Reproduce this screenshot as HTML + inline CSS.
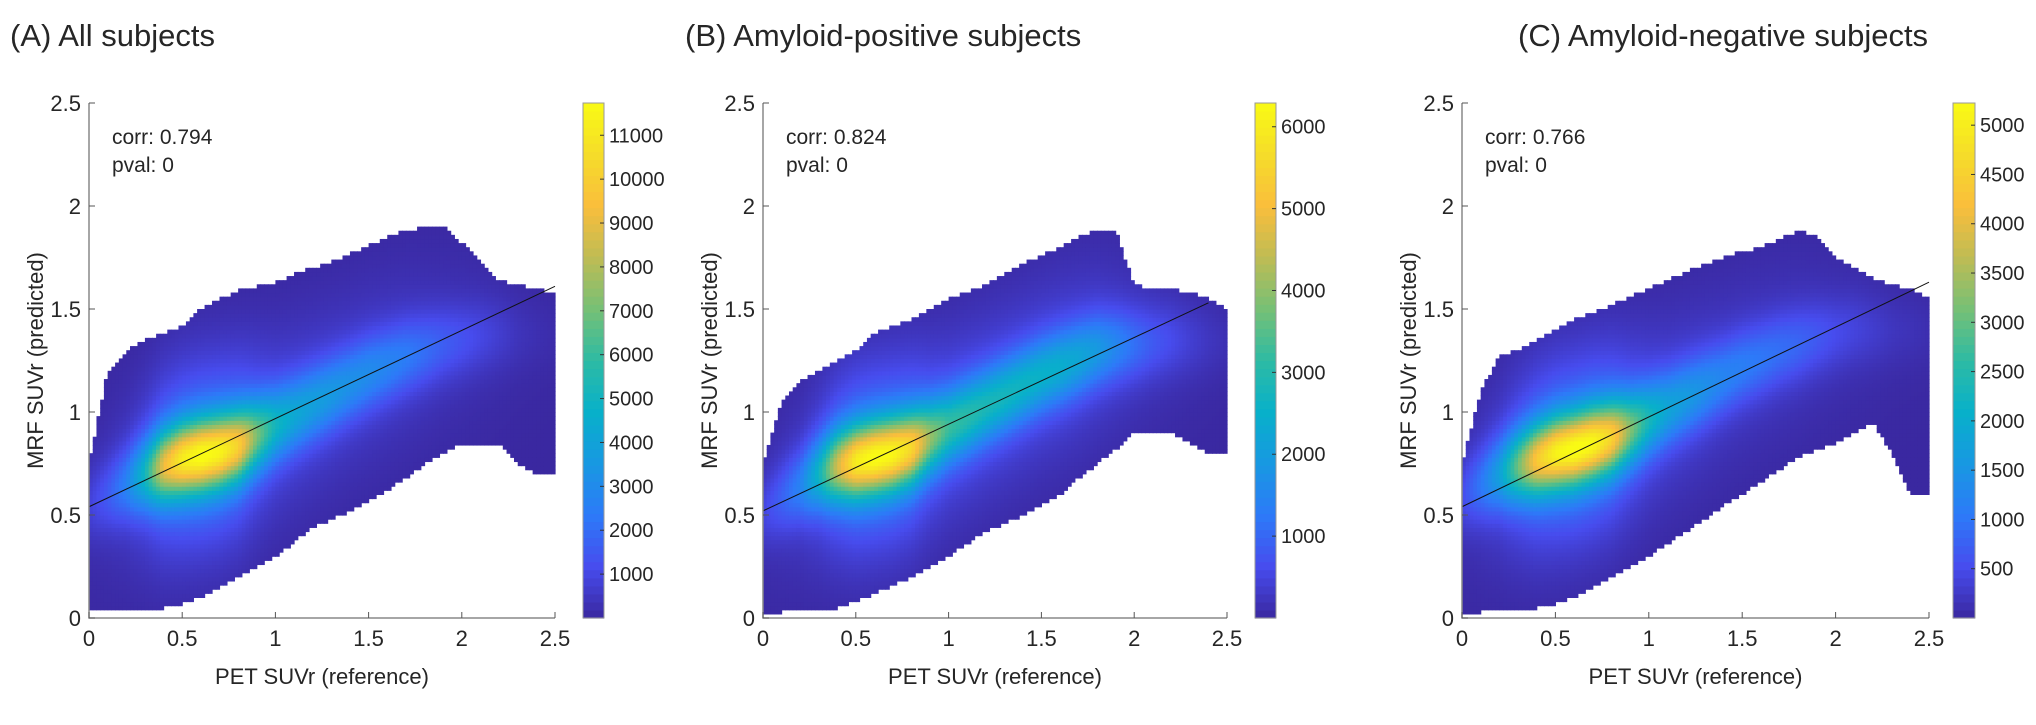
<!DOCTYPE html>
<html><head><meta charset="utf-8"><style>
html,body{margin:0;padding:0;background:#fff;}
svg text{font-family:"Liberation Sans",sans-serif;fill:#262626;}
</style></head><body>
<svg id="fig" width="2036" height="720" viewBox="0 0 2036 720" xmlns="http://www.w3.org/2000/svg"></svg>
<script>
// ---- data ----
const xBins = [0,0.1,0.2,0.3,0.4,0.5,0.6,0.7,0.8,0.9,1.0,1.1,1.2,1.3,1.4,1.5,1.6,1.7,1.8,1.9,2.0,2.1,2.2,2.3,2.4,2.5];
const xTicks = [0,0.5,1,1.5,2,2.5];
const yTicks = [0,0.5,1,1.5,2,2.5];
const titles = ["(A) All subjects","(B) Amyloid-positive subjects","(C) Amyloid-negative subjects"];
const corrs = ["0.794","0.824","0.766"];
const pvals = ["0","0","0"];
const cMaxes = [11735,6290,5225];
const cTicksA = [1000,2000,3000,4000,5000,6000,7000,8000,9000,10000,11000];
const cTicksB = [1000,2000,3000,4000,5000,6000];
const cTicksC = [500,1000,1500,2000,2500,3000,3500,4000,4500,5000];
const peakA = [800,1500,2600,5000,9000,11000,11700,11300,10000,7000,5000,4200,3800,3500,3200,3000,2700,2400,2000,1600,1300,1000,700,400,250,150];
const peakB = [500,900,1400,2600,4500,5900,6250,6100,5500,4000,3200,3000,2800,2700,2600,2500,2400,2200,1900,1500,1100,800,600,400,250,150];
const peakC = [500,1000,1700,3000,4300,5000,5220,5100,4500,3200,2300,1800,1600,1400,1200,1100,1000,900,800,650,500,400,300,200,150,100];
const ridgeA = [0.55,0.6,0.65,0.7,0.74,0.77,0.79,0.81,0.84,0.89,0.94,0.99,1.04,1.09,1.14,1.19,1.23,1.27,1.3,1.33,1.35,1.37,1.38,1.38,1.38,1.38];
const ridgeB = [0.52,0.58,0.64,0.7,0.74,0.76,0.78,0.8,0.83,0.88,0.93,0.98,1.03,1.08,1.13,1.18,1.22,1.26,1.3,1.32,1.33,1.34,1.35,1.35,1.35,1.35];
const ridgeC = [0.6,0.65,0.7,0.74,0.77,0.8,0.82,0.85,0.88,0.92,0.97,1.02,1.07,1.12,1.17,1.22,1.26,1.3,1.33,1.36,1.38,1.4,1.4,1.4,1.4,1.4];
const upperA = [0.75,1.2,1.3,1.35,1.38,1.42,1.5,1.55,1.59,1.61,1.63,1.67,1.70,1.73,1.77,1.81,1.85,1.88,1.9,1.9,1.82,1.74,1.64,1.62,1.6,1.58];
const lowerA = [0.05,0.04,0.04,0.05,0.05,0.07,0.1,0.15,0.2,0.25,0.3,0.37,0.44,0.48,0.52,0.57,0.62,0.68,0.75,0.8,0.85,0.85,0.85,0.75,0.7,0.7];
const upperB = [0.75,1.05,1.15,1.2,1.25,1.3,1.38,1.42,1.45,1.5,1.55,1.58,1.62,1.67,1.72,1.76,1.8,1.85,1.88,1.88,1.62,1.6,1.6,1.58,1.55,1.5];
const lowerB = [0.03,0.03,0.04,0.05,0.05,0.08,0.12,0.16,0.2,0.25,0.3,0.36,0.42,0.46,0.5,0.55,0.6,0.68,0.75,0.82,0.9,0.9,0.9,0.85,0.8,0.8];
const upperC = [0.75,1.1,1.28,1.3,1.35,1.4,1.45,1.48,1.52,1.56,1.6,1.64,1.68,1.72,1.75,1.78,1.8,1.84,1.88,1.86,1.75,1.7,1.65,1.62,1.6,1.55];
const lowerC = [0.03,0.03,0.05,0.05,0.05,0.07,0.1,0.15,0.2,0.25,0.3,0.36,0.42,0.48,0.55,0.6,0.66,0.72,0.78,0.82,0.85,0.9,0.95,0.8,0.6,0.6];
const fitA = [[0,0.54],[2.5,1.61]];
const fitB = [[0,0.52],[2.4,1.53]];
const fitC = [[0,0.54],[2.5,1.63]];

// ---- layout ----
const panels = [
 {L:89,R:555,T:103,B:618,cbL:583,cbR:604,titleX:10,peak:peakA,ridge:ridgeA,up:upperA,lo:lowerA,fit:fitA,cT:cTicksA},
 {L:763,R:1227,T:103,B:618,cbL:1255,cbR:1276,titleX:685,peak:peakB,ridge:ridgeB,up:upperB,lo:lowerB,fit:fitB,cT:cTicksB},
 {L:1462,R:1929,T:103,B:618,cbL:1953,cbR:1975,titleX:1518,peak:peakC,ridge:ridgeC,up:upperC,lo:lowerC,fit:fitC,cT:cTicksC}
];
const NS="http://www.w3.org/2000/svg";
const svg=document.getElementById('fig');
function mk(tag,attrs,parent){const e=document.createElementNS(NS,tag);for(const k in attrs)e.setAttribute(k,attrs[k]);(parent||svg).appendChild(e);return e;}
const parulaStops=[[0,58,40,160],[0.1,71,76,238],[0.2,45,122,248],[0.3,24,152,226],[0.4,8,176,202],[0.5,45,187,164],[0.6,118,192,118],[0.7,190,188,84],[0.8,250,190,60],[0.9,245,220,42],[1,249,250,20]];
function parula(t){t=Math.max(0,Math.min(1,t));for(let i=1;i<parulaStops.length;i++){const a=parulaStops[i-1],b=parulaStops[i];if(t<=b[0]){const f=(t-a[0])/(b[0]-a[0]);return `rgb(${Math.round(a[1]+f*(b[1]-a[1]))},${Math.round(a[2]+f*(b[2]-a[2]))},${Math.round(a[3]+f*(b[3]-a[3]))})`;}}return 'rgb(249,250,20)';}
function interp(arr,x){const i=Math.min(arr.length-2,Math.floor(x/0.1));const f=(x-xBins[i])/0.1;return arr[i]+(arr[i+1]-arr[i])*f;}

panels.forEach((p,pi)=>{
  const g=mk('g',{});
  
  
  const sx=v=>p.L+(v/2.5)*(p.R-p.L);
  const sy=v=>p.B-(v/2.5)*(p.B-p.T);
  const cmax=cMaxes[pi];
  const t=mk('text',{x:p.titleX,y:46,'font-size':31},g);t.textContent=titles[pi];
  
  const cells=mk('g',{},g);
  
  const step=0.02;
  for(let x=0;x<2.5-1e-9;x+=step){
    const xc=x+step/2;
    const up=interp(p.up,xc),lo=interp(p.lo,xc),pk=interp(p.peak,xc),rc=interp(p.ridge,xc);
    for(let y=0;y<2.5-1e-9;y+=step){
      const yc=y+step/2;
      if(yc<lo||yc>up)continue;
      const d=yc-rc;
      let v=pk*0.78*Math.exp(-(d*d)/(2*0.12*0.12))+pk*0.24*Math.exp(-(d*d)/(2*0.3*0.3));
      const r=mk('rect',{x:sx(x).toFixed(2),y:sy(y+step).toFixed(2),width:(sx(step)-sx(0)+0.6).toFixed(2),height:(sy(0)-sy(step)+0.6).toFixed(2),fill:parula(v/cmax)},cells);
      
      
    }
  }
  const fl=mk('line',{x1:sx(p.fit[0][0]),y1:sy(p.fit[0][1]),x2:sx(p.fit[1][0]),y2:sy(p.fit[1][1]),stroke:'#111','stroke-width':1},g);
  
  const ax=mk('path',{d:`M${p.L},${p.T} L${p.L},${p.B} L${p.R},${p.B}`,stroke:'#888',fill:'none','stroke-width':1.5},g);
  
  xTicks.forEach(v=>{
    mk('line',{x1:sx(v),y1:p.B,x2:sx(v),y2:p.B-6,stroke:'#555'},g);
    const tx=mk('text',{x:sx(v),y:646,'font-size':22,'text-anchor':'middle'},g);tx.textContent=v;
    
  });
  yTicks.forEach(v=>{
    mk('line',{x1:p.L,y1:sy(v),x2:p.L+6,y2:sy(v),stroke:'#555'},g);
    const ty=mk('text',{x:p.L-8,y:sy(v)+8,'font-size':22,'text-anchor':'end'},g);ty.textContent=v;
    
  });
  const xl=mk('text',{x:(p.L+p.R)/2,y:684,'font-size':22,'text-anchor':'middle'},g);xl.textContent='PET SUVr (reference)';
  
  const yl=mk('text',{x:0,y:0,'font-size':22,'text-anchor':'middle',transform:`translate(${p.L-46},${(p.T+p.B)/2}) rotate(-90)`},g);yl.textContent='MRF SUVr (predicted)';
  
  const c1=mk('text',{x:p.L+23,y:144,'font-size':21},g);c1.textContent='corr: '+corrs[pi];
  
  const c2=mk('text',{x:p.L+23,y:172,'font-size':21},g);c2.textContent='pval: '+pvals[pi];
  
  const cb=mk('g',{},g);
  const nS=64;
  for(let i=0;i<nS;i++){
    const y0=p.B-(i+1)*(p.B-p.T)/nS;
    mk('rect',{x:p.cbL,y:y0.toFixed(2),width:p.cbR-p.cbL,height:((p.B-p.T)/nS+0.6).toFixed(2),fill:parula((i+0.5)/nS)},cb);
  }
  mk('rect',{x:p.cbL,y:p.T,width:p.cbR-p.cbL,height:p.B-p.T,fill:'none',stroke:'#999','stroke-width':1},cb);
  const cy=v=>p.B-(v/cmax)*(p.B-p.T);
  p.cT.forEach(v=>{
    mk('line',{x1:p.cbR-4,y1:cy(v),x2:p.cbR,y2:cy(v),stroke:'#333'},cb);
    const ct=mk('text',{x:p.cbR+5,y:cy(v)+7,'font-size':20},cb);ct.textContent=v;
    
  });
});
</script>
</body></html>
